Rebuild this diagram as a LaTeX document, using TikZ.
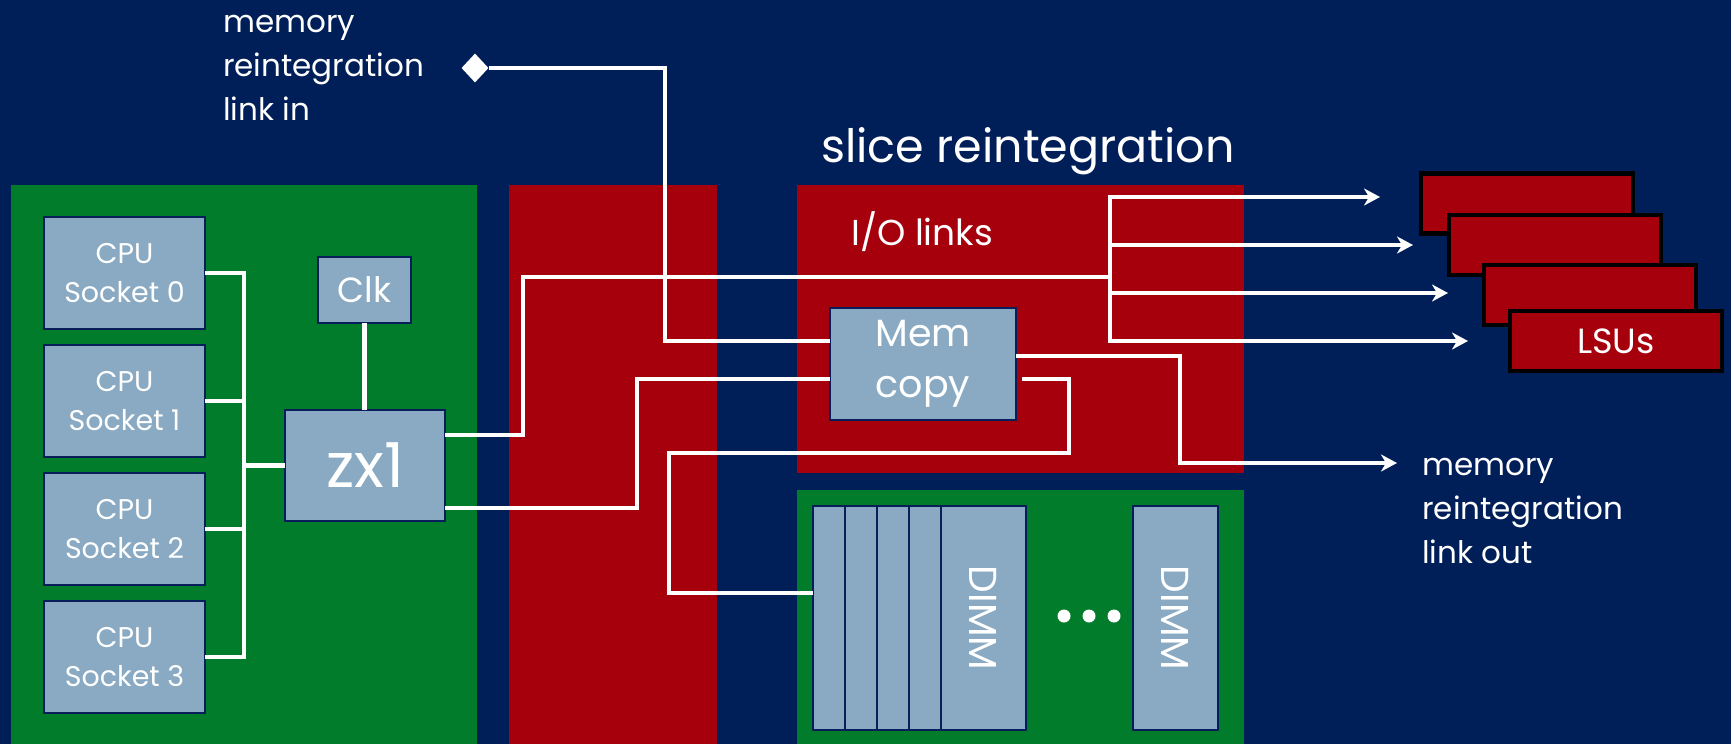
\documentclass[tikz,border=0pt]{standalone}
\usepackage{fontspec}
\setmainfont{Poppins}
\usetikzlibrary{arrows.meta,shapes.geometric,calc}
\definecolor{bgnavy}{RGB}{0,30,88}
\definecolor{boardgreen}{RGB}{0,124,42}
\definecolor{chipred}{RGB}{166,0,13}
\definecolor{boxblue}{RGB}{137,170,194}
\definecolor{boxline}{RGB}{8,30,90}
\begin{document}
\begin{tikzpicture}[x=1pt,y=-1pt,
  blk/.style={draw=boxline, line width=2.5pt, fill=boxblue, text=white,
    inner sep=0pt, outer sep=0pt, anchor=north west, align=center},
  dimmslice/.style={draw=boxline, line width=1.5pt, fill=boxblue, text=white,
    inner sep=0pt, outer sep=0pt, anchor=north west, minimum height=224pt},
  lsu/.style={draw=black, line width=4.5pt, fill=chipred, text=white,
    inner sep=0pt, minimum width=212pt, minimum height=60pt},
  lbl/.style={text=white, inner sep=0pt, align=left, font={\fontsize{31}{44}\selectfont}},
  wire/.style={draw=white, line width=4.5pt, line join=miter},
  arr/.style={-{Stealth[length=16pt,width=17pt,inset=5pt]}},
  dotmark/.style={circle, fill=white, inner sep=0pt, minimum size=13pt}]

% page and background
\useasboundingbox (0,0) rectangle (1731,744);
\fill[bgnavy] (0,0) rectangle (1731,744);

% boards and chip regions
\fill[boardgreen] (11,185) rectangle (477,744);
\fill[chipred] (509,185) rectangle (717,744);
\fill[chipred] (797,185) rectangle (1244,473);
\fill[boardgreen] (797,490) rectangle (1244,744);

% titles
\node[text=white, inner sep=0pt, anchor=base west, font={\fontsize{46}{50}\selectfont}]
  (title) at (821,162) {slice reintegration};
\node[text=white, inner sep=0pt, anchor=base west, font={\fontsize{36}{40}\selectfont}]
  (iolinks) at (851,245) {I/O links};
\node[lbl, anchor=west] (linkin) at (223,68) {memory\\reintegration\\link in};
\node[lbl, anchor=west] (linkout) at (1422,511) {memory\\reintegration\\link out};

% CPU sockets, clock and chipset
\foreach \i/\y in {0/217,1/345,2/473,3/601}
  \node[blk, minimum width=161pt, minimum height=112pt, font={\fontsize{28.5}{39}\selectfont}]
    (cpu\i) at (44,\y) {CPU\\Socket \i};
\node[blk, minimum width=93pt, minimum height=66pt, font={\fontsize{35}{40}\selectfont}]
  (clk) at (318,257) {Clk};
\node[blk, minimum width=160pt, minimum height=111pt, font={\fontsize{62}{66}\selectfont}]
  (zx1) at (285,410) {zx1};

% memory copy engine
\node[blk, minimum width=186pt, minimum height=112pt, font={\fontsize{38}{51}\selectfont}]
  (mem) at (830,308) {Mem\\copy};

% DIMMs
\node[dimmslice, minimum width=32pt] (dimmA) at (813,506) {};
\node[dimmslice, minimum width=32pt] (dimmB) at (845,506) {};
\node[dimmslice, minimum width=32pt] (dimmC) at (877,506) {};
\node[dimmslice, minimum width=32pt] (dimmD) at (909,506) {};
\node[dimmslice, minimum width=85pt] (dimmE) at (941,506) {};
\node[dimmslice, minimum width=85pt] (dimmF) at (1133,506) {};
\node[text=white, rotate=-90, inner sep=0pt, font={\fontsize{39}{42}\selectfont}]
  (dimmEtxt) at (983,618) {DIMM};
\node[text=white, rotate=-90, inner sep=0pt, font={\fontsize{39}{42}\selectfont}]
  (dimmFtxt) at (1175,618) {DIMM};
\node[dotmark] (dot1) at (1064,616) {};
\node[dotmark] (dot2) at (1089,616) {};
\node[dotmark] (dot3) at (1114,616) {};

% LSU stack
\node[lsu] (lsu1) at (1527,203.5) {};
\node[lsu] (lsu2) at (1555,245) {};
\node[lsu] (lsu3) at (1590,295) {};
\node[lsu, font={\fontsize{35}{38}\selectfont}] (lsu4) at (1616,341) {LSUs};

% link-in terminal
\node[diamond, fill=white, inner sep=0pt, minimum width=27pt, minimum height=29pt]
  (memin) at (475,68) {};

% bend points of the links
\coordinate (busX) at (244,273);
\coordinate (ioUp) at (523,435);
\coordinate (ioJoin) at (1110,277);
\coordinate (tipA) at (1380,197);
\coordinate (tipB) at (1413,245);
\coordinate (tipC) at (1448,293);
\coordinate (tipD) at (1468,341);
\coordinate (loBend) at (637,508);
\coordinate (loTop) at (637,379);
\coordinate (inBend) at (665,341);
\coordinate (outBend) at (1180,356);
\coordinate (outTip) at (1397,463);
\coordinate (dA) at (1069,379);
\coordinate (dB) at (669,453);
\coordinate (dC) at (669,593);

% processor bus
\draw[wire] (cpu0.east) -| (busX |- cpu3.east) -- (cpu3.east);
\draw[wire] (cpu1.east) -- (busX |- cpu1.east);
\draw[wire] (cpu2.east) -- (busX |- cpu2.east);
\draw[wire] (zx1.west) -- (busX |- zx1.west);
\draw[wire] (clk.south) -- (clk.south |- zx1.north);

% I/O links to the LSUs
\draw[wire] (ioUp -| zx1.east) -- (ioUp) |- (ioJoin);
\draw[wire, {Stealth[length=16pt,width=17pt,inset=5pt]}-{Stealth[length=16pt,width=17pt,inset=5pt]}]
  (tipA) -| (ioJoin |- tipD) -- (tipD);
\draw[wire, arr] (tipB -| ioJoin) -- (tipB);
\draw[wire, arr] (tipC -| ioJoin) -- (tipC);

% memory paths
\draw[wire] (loBend -| zx1.east) -- (loBend) -- (loTop) -- (loTop -| mem.west);
\draw[wire] (memin.east) -| (inBend) -- (inBend -| mem.west);
\draw[wire, arr] (outBend -| mem.east) -- (outBend) |- (outTip);
\draw[wire, shorten <=6pt] (dA -| mem.east) -- (dA) |- (dB) -- (dC) -- (dC -| dimmA.west);
\end{tikzpicture}
\end{document}
